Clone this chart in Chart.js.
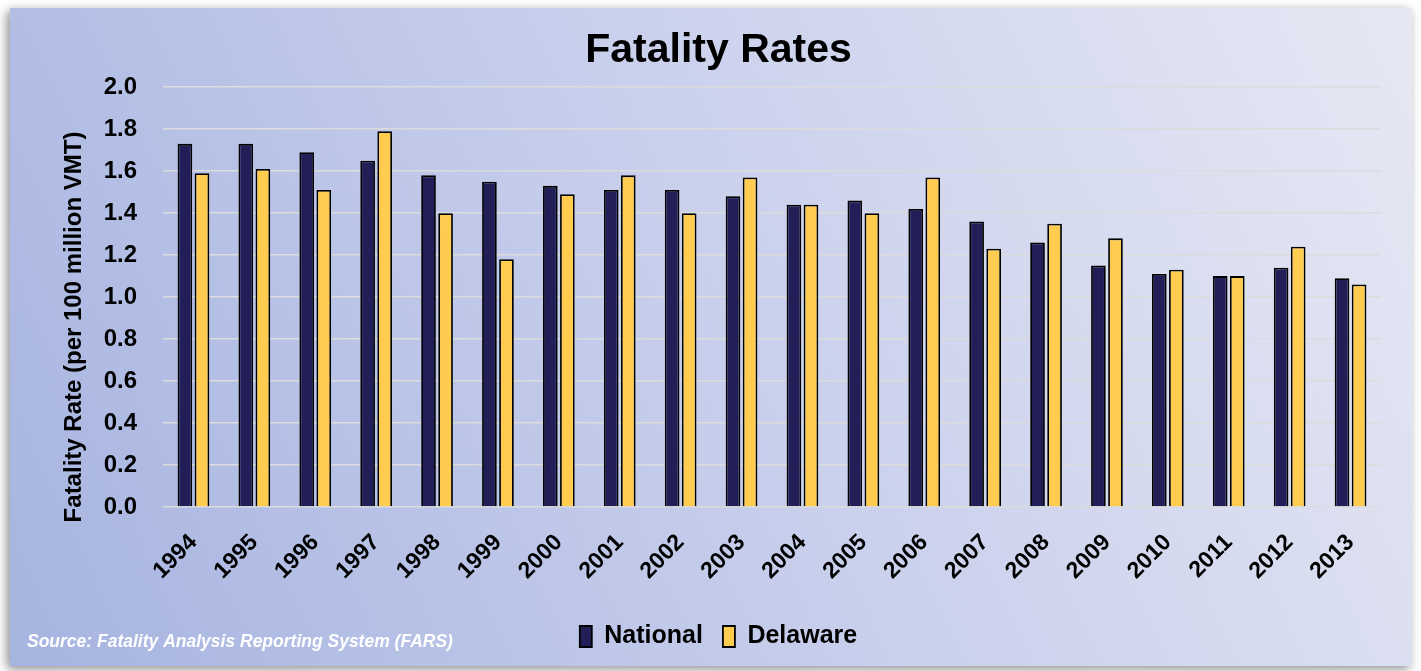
<!DOCTYPE html>
<html>
<head>
<meta charset="utf-8">
<script src="https://cdn.jsdelivr.net/npm/chart.js@4"></script>
<style>
  html, body { margin: 0; padding: 0; background: #fff; }
  #wrap { width: 1421px; height: 671px; }
</style>
</head>
<body>
<div id="wrap"><canvas id="chart"></canvas></div>
<script>
// data
const years = ['1994','1995','1996','1997','1998','1999','2000','2001','2002','2003',
               '2004','2005','2006','2007','2008','2009','2010','2011','2012','2013'];
const national = [1.73,1.73,1.69,1.65,1.58,1.55,1.53,1.51,1.51,1.48,
                  1.44,1.46,1.42,1.36,1.26,1.15,1.11,1.10,1.14,1.09];
const delaware = [1.59,1.61,1.51,1.79,1.40,1.18,1.49,1.58,1.40,1.57,
                  1.44,1.40,1.57,1.23,1.35,1.28,1.13,1.10,1.24,1.06];
const yTicks = [0,0.2,0.4,0.6,0.8,1.0,1.2,1.4,1.6,1.8,2.0];

const FONT = '"Liberation Sans Narrow", "Arial Narrow", "Liberation Sans", Arial, sans-serif';

// panel behind the chart + texts that chart.js has no slot for
const panel = {
  id: 'panel',
  beforeDraw(chart) {
    const ctx = chart.ctx;
    ctx.save();
    ctx.fillStyle = '#fff';
    ctx.fillRect(0, 0, chart.width, chart.height);
    const x0 = 10, y0 = 8, x1 = 1412, y1 = 666;
    ctx.shadowColor = 'rgba(0,0,0,0.45)';
    ctx.shadowBlur = 10;
    ctx.shadowOffsetX = -3;
    ctx.shadowOffsetY = 3;
    const g = ctx.createLinearGradient(x0, y1, x1, y0);
    g.addColorStop(0, '#a6b4e0');
    g.addColorStop(0.5, '#c8cfec');
    g.addColorStop(1, '#e6e8f3');
    ctx.fillStyle = g;
    ctx.fillRect(x0, y0, x1 - x0, y1 - y0);
    ctx.restore();
  },
  afterDraw(chart) {
    const ctx = chart.ctx;
    ctx.save();
    // y axis title
    ctx.translate(74, 327);
    ctx.rotate(-Math.PI / 2);
    ctx.fillStyle = '#000';
    ctx.font = 'bold 24px ' + FONT;
    ctx.textAlign = 'center';
    ctx.textBaseline = 'middle';
    ctx.fillText('Fatality Rate (per 100 million VMT)', 0, 0);
    ctx.restore();
    // source note
    ctx.save();
    ctx.fillStyle = '#fff';
    ctx.font = 'italic bold 17.5px ' + FONT;
    ctx.textAlign = 'left';
    ctx.textBaseline = 'middle';
    ctx.fillText('Source: Fatality Analysis Reporting System (FARS)', 27, 642);
    ctx.restore();
  }
};

const data = {
  labels: years,
  datasets: [
    { label: 'National', data: national, backgroundColor: '#221e57', borderColor: '#000', borderWidth: 1.8 },
    { label: 'Delaware', data: delaware, backgroundColor: '#ffcc50', borderColor: '#000', borderWidth: 1.8 }
  ]
};

const config = {
  type: 'bar',
  data: data,
  options: {
    responsive: true,
    maintainAspectRatio: false,
    animation: false,
    categoryPercentage: 0.56,
    barPercentage: 0.86,
    layout: { padding: { left: 56, right: 40, top: 0, bottom: 12 } },
    plugins: {
      title: {
        display: true,
        text: 'Fatality Rates',
        color: '#000',
        font: { family: FONT, size: 41, weight: 'bold' },
        padding: { top: 26, bottom: 12 }
      },
      legend: {
        position: 'bottom',
        labels: {
          color: '#000',
          font: { family: FONT, size: 25, weight: 'bold' },
          boxWidth: 12,
          boxHeight: 21,
          padding: 20
        }
      },
      tooltip: { enabled: false }
    },
    scales: {
      x: {
        grid: { display: false, drawTicks: false },
        border: { display: false },
        ticks: {
          color: '#000',
          font: { family: FONT, size: 23, weight: 'bold' },
          minRotation: 45,
          maxRotation: 45,
          padding: 22
        },
        afterFit(scale) { scale.height = 97; }
      },
      y: {
        min: 0,
        max: 2,
        afterBuildTicks(scale) { scale.ticks = yTicks.map(v => ({ value: v })); },
        grid: { color: '#dcdcdc', lineWidth: 1.5, drawTicks: false },
        border: { display: false },
        ticks: {
          color: '#000',
          font: { family: FONT, size: 24, weight: 'bold' },
          padding: 26,
          callback: v => Number(v).toFixed(1)
        },
        afterFit(scale) { scale.width = 107; }
      }
    }
  },
  plugins: [panel]
};

const ctx = document.getElementById('chart').getContext('2d');
const fatalityChart = new Chart(ctx, config);
</script>
</body>
</html>
